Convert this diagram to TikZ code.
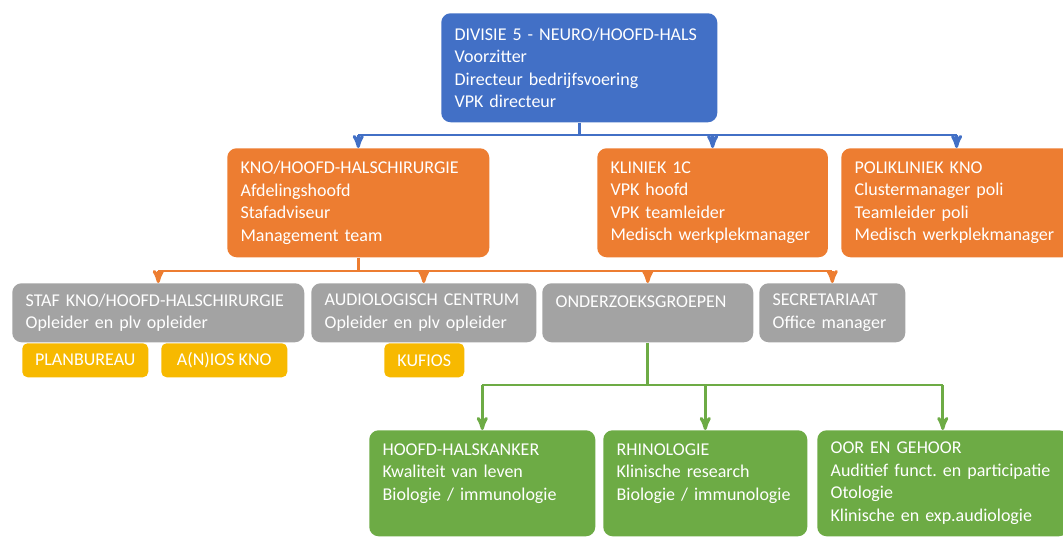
\documentclass[tikz,border=0pt]{standalone}
\usepackage{fontspec}
\setmainfont{Carlito}
\usepackage{tikz}
\usetikzlibrary{arrows}
\hyphenpenalty=10000
\exhyphenpenalty=10000
\frenchspacing

\definecolor{divblue}{HTML}{4270C6}
\definecolor{afdorange}{HTML}{ED7D31}
\definecolor{stafgray}{HTML}{A3A3A3}
\definecolor{subyellow}{HTML}{F7B900}
\definecolor{groepgreen}{HTML}{6DAB45}

\begin{document}
\begin{tikzpicture}[x=0.75pt,y=-0.75pt,>=stealth',
                    font=\fontsize{13.5}{16.8}\selectfont]
  \tikzstyle{box}=[anchor=north west,rounded corners=7pt,text=white,
                   align=left,inner xsep=10pt,inner ysep=0pt]
  \tikzstyle{tag}=[anchor=north west,rounded corners=4pt,text=white,
                   fill=subyellow,minimum height=25.5pt,inner sep=0pt]
  \tikzstyle{link}=[line width=2.2pt]

  \useasboundingbox (0,0) rectangle (1063,536);

  \node[box,fill=divblue,text width=187pt,minimum height=81.75pt] (div) at (441,13)
    {DIVISIE 5 - NEURO/HOOFD-HALS\\Voorzitter\\Directeur bedrijfsvoering\\VPK directeur};

  \node[box,fill=afdorange,text width=176.5pt,minimum height=81.75pt] (kno) at (227,148)
    {KNO/HOOFD-HALSCHIRURGIE\\Afdelingshoofd\\Stafadviseur\\Management team};
  \node[box,fill=afdorange,text width=153pt,minimum height=81.75pt] (kliniek) at (597,148)
    {KLINIEK 1C\\VPK hoofd\\VPK teamleider\\Medisch werkplekmanager};
  \node[box,fill=afdorange,text width=153pt,minimum height=81.75pt] (poli) at (841,148)
    {POLIKLINIEK KNO\\Clustermanager poli\\Teamleider poli\\Medisch werkplekmanager};

  \node[box,fill=stafgray,text width=199pt,minimum height=44.25pt] (staf) at (12,283)
    {STAF KNO/HOOFD-HALSCHIRURGIE\\Opleider en plv opleider};
  \node[box,fill=stafgray,text width=148.75pt,minimum height=44.25pt] (audio) at (311,283)
    {AUDIOLOGISCH CENTRUM\\Opleider en plv opleider};
  \node[box,fill=stafgray,text width=138.25pt,minimum height=44.25pt] (onderz) at (542,283)
    {ONDERZOEKSGROEPEN\\~};
  \node[box,fill=stafgray,text width=89.5pt,minimum height=44.25pt] (secr) at (759,283)
    {SECRETARIAAT\\Office manager};

  \node[tag,minimum width=94.5pt] (plan) at (22,343) {PLANBUREAU};
  \node[tag,minimum width=94.5pt] (anios) at (161,343) {A(N)IOS KNO};
  \node[tag,minimum width=60pt] (kufios) at (384,343) {KUFIOS};

  \node[box,fill=groepgreen,text width=149.5pt,minimum height=79.5pt] (hh) at (369,430)
    {HOOFD-HALSKANKER\\Kwaliteit van leven\\Biologie / immunologie\\~};
  \node[box,fill=groepgreen,text width=133pt,minimum height=79.5pt] (rh) at (603,430)
    {RHINOLOGIE\\Klinische research\\Biologie / immunologie\\~};
  \node[box,fill=groepgreen,text width=168.25pt,minimum height=79.5pt] (oor) at (817,430)
    {OOR EN GEHOOR\\Auditief funct. en participatie\\Otologie\\Klinische en exp.audiologie};

  \coordinate (b1) at (0,135);
  \coordinate (b2) at (0,271);
  \coordinate (b3) at (0,385);

  \draw[link,divblue] (div.south) -- (div.south |- b1)
    (kno.north |- b1) -- (poli.north |- b1);
  \path[link,divblue,->] (kno.north |- b1) edge (kno.north)
    (kliniek.north |- b1) edge (kliniek.north)
    (poli.north |- b1) edge (poli.north);

  \draw[link,afdorange] (kno.south) -- (kno.south |- b2)
    (staf.north |- b2) -- (secr.north |- b2);
  \path[link,afdorange,->] (staf.north |- b2) edge (staf.north)
    (audio.north |- b2) edge (audio.north)
    (onderz.north |- b2) edge (onderz.north)
    (secr.north |- b2) edge (secr.north);

  \draw[link,groepgreen] (onderz.south) -- (onderz.south |- b3)
    (hh.north |- b3) -- (oor.north |- b3);
  \path[link,groepgreen,->] (hh.north |- b3) edge (hh.north)
    (rh.north |- b3) edge (rh.north)
    (oor.north |- b3) edge (oor.north);
\end{tikzpicture}
\end{document}
